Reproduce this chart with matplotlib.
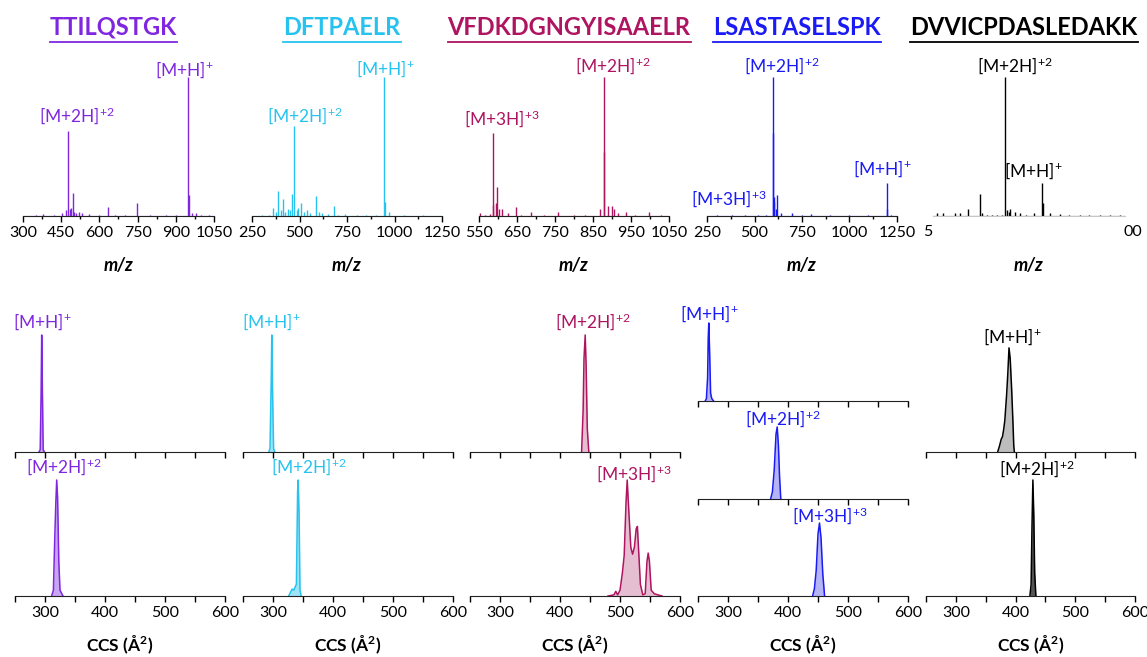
import matplotlib
matplotlib.use('Agg')
import matplotlib.pyplot as plt
from matplotlib.lines import Line2D

# ================= fonts =================
plt.rcParams['font.family'] = ['Lato', 'DejaVu Sans']
plt.rcParams['font.size'] = 11
plt.rcParams['mathtext.fontset'] = 'custom'
plt.rcParams['mathtext.rm'] = 'Lato'
plt.rcParams['mathtext.it'] = 'Lato:italic'
plt.rcParams['mathtext.bf'] = 'Lato:bold'
# =========================================

W, H = 1147, 657

peptides = ['TTILQSTGK', 'DFTPAELR', 'VFDKDGNGYISAAELR', 'LSASTASELSPK', 'DVVICPDASLEDAKK']
colors = ['#7F27E0', '#27C3EE', '#AE1460', '#1A1AF5', '#000000']
fills = ['#C9A6F2', '#9FE3F6', '#E6BED2', '#B4B4F7', ['#BDBDBD', '#555555']]

MH = r'[M+H]$^{+}$'
M2H = r'[M+2H]$^{+2}$'
M3H = r'[M+3H]$^{+3}$'

# ---- mass spectra (m/z, relative intensity) ----
mz_1 = [350, 380, 420, 455, 470, 476, 485, 490, 495, 500, 510, 520, 530, 560, 600, 634, 660, 700,
        746, 800, 860, 900, 949, 951, 965, 980, 1000, 1030]
int_1 = [0.01, 0.015, 0.01, 0.02, 0.04, 0.61, 0.05, 0.06, 0.165, 0.03, 0.025, 0.03, 0.02, 0.015, 0.01,
         0.065, 0.01, 0.008, 0.094, 0.01, 0.01, 0.01, 1.0, 0.15, 0.02, 0.02, 0.01, 0.008]

mz_2 = [300, 340, 362, 375, 385, 400, 411, 425, 441, 452, 461, 473, 485, 494, 510, 525, 541, 555, 585,
        602, 620, 650, 682, 700, 739, 800, 850, 900, 946, 950, 971, 1050, 1150]
int_2 = [0.005, 0.01, 0.055, 0.03, 0.18, 0.04, 0.12, 0.03, 0.05, 0.04, 0.16, 0.65, 0.04, 0.06, 0.095, 0.03,
         0.04, 0.02, 0.145, 0.03, 0.02, 0.015, 0.07, 0.01, 0.015, 0.008, 0.01, 0.005, 1.0, 0.1, 0.03, 0.005, 0.005]

mz_3 = [553, 565, 580, 586, 588, 594, 598, 603, 610, 625, 647, 660, 688, 720, 759, 800, 830, 868, 879,
        880, 890, 899, 905, 915, 938, 960, 997, 1030]
int_3 = [0.02, 0.01, 0.015, 0.6, 0.08, 0.09, 0.21, 0.05, 0.05, 0.02, 0.065, 0.01, 0.03, 0.01, 0.03, 0.01,
         0.01, 0.05, 1.0, 0.46, 0.07, 0.07, 0.05, 0.02, 0.03, 0.01, 0.03, 0.01]

mz_4 = [300, 380, 450, 520, 560, 595, 597, 601, 605, 612, 617, 640, 700, 750, 800, 900, 1000, 1100,
        1195, 1199, 1220]
int_4 = [0.005, 0.01, 0.008, 0.01, 0.01, 1.0, 0.6, 0.1, 0.14, 0.05, 0.15, 0.02, 0.02, 0.01, 0.012, 0.005,
         0.005, 0.005, 0.24, 0.05, 0.005]

mz_5 = [531, 578, 672, 711, 773, 867, 880, 920, 960, 1000, 1040, 1063, 1078, 1090, 1102, 1141, 1180, 1230,
        1290, 1352, 1359, 1414, 1492, 1560, 1648, 1720, 1805, 1880, 1961]
int_5 = [0.02, 0.02, 0.02, 0.02, 0.05, 0.16, 0.02, 0.01, 0.01, 0.01, 0.01, 1.0, 0.045, 0.03, 0.05, 0.03,
         0.02, 0.01, 0.02, 0.24, 0.09, 0.02, 0.015, 0.01, 0.01, 0.01, 0.01, 0.01, 0.01]

spectra = [(mz_1, int_1), (mz_2, int_2), (mz_3, int_3), (mz_4, int_4), (mz_5, int_5)]
mz_ranges = [(300, 1050, 150), (250, 1250, 250), (550, 1050, 100), (250, 1250, 250), (500, 2000, 250)]

# labels: (text, m/z of peak, intensity of peak, dx px, dy px)
ms_labels = [
    [(M2H, 476, 0.61, 9, 9), (MH, 949, 1.0, -4, 1)],
    [(M2H, 473, 0.65, 11, 4), (MH, 946, 1.0, 1, 2)],
    [(M3H, 586, 0.6, 9, 8), (M2H, 879, 1.0, 9, 5)],
    [(M2H, 595, 1.0, 9, 5), (M3H, 605, 0.14, -46, -8), (MH, 1195, 0.24, -4, 8)],
    [(M2H, 1063, 1.0, 10, 5), (MH, 1352, 0.24, -9, 6)],
]

# ---- CCS profiles (Å², relative intensity) ----
ccs_ttil_1 = [290, 292, 293.5, 294.5, 296, 297, 299]
prof_ttil_1 = [0, 0.02, 0.5, 1.0, 0.4, 0.02, 0]
ccs_ttil_2 = [311, 314, 316, 318, 319.5, 321, 323, 325, 328, 330]
prof_ttil_2 = [0, 0.05, 0.45, 0.8, 1.0, 0.85, 0.3, 0.05, 0.02, 0]

ccs_dftp_1 = [293, 295, 297, 298, 299.5, 301, 303]
prof_dftp_1 = [0, 0.03, 0.6, 1.0, 0.45, 0.03, 0]
ccs_dftp_2 = [326, 329, 332, 335, 337, 339, 340, 341, 342, 343.5, 345, 347]
prof_dftp_2 = [0, 0.03, 0.06, 0.05, 0.08, 0.1, 0.5, 0.9, 1.0, 0.7, 0.05, 0]

ccs_vfdk_2 = [436, 438.5, 440, 442, 443.5, 445.5, 448]
prof_vfdk_2 = [0, 0.35, 0.8, 1.0, 0.75, 0.2, 0]
ccs_vfdk_3 = [480, 490, 493, 496, 500, 504, 507, 510, 512, 514, 518, 521, 524, 527, 529, 531, 534, 538,
              542, 545, 547, 549, 552, 557, 563, 570]
prof_vfdk_3 = [0, 0.01, 0.04, 0.01, 0.05, 0.2, 0.35, 0.8, 1.0, 0.8, 0.42, 0.36, 0.42, 0.58, 0.6, 0.4,
               0.1, 0.01, 0.02, 0.3, 0.37, 0.3, 0.05, 0.02, 0.01, 0]

ccs_lsas_1 = [262, 264, 266, 267, 268, 269.5, 271, 273, 276]
prof_lsas_1 = [0, 0.03, 0.3, 0.8, 1.0, 0.6, 0.1, 0.03, 0]
ccs_lsas_2 = [371, 374, 377, 380, 382, 384, 386, 388]
prof_lsas_2 = [0, 0.1, 0.4, 0.9, 1.0, 0.75, 0.3, 0]
ccs_lsas_3 = [441, 444, 447, 450, 452.5, 455, 458, 461]
prof_lsas_3 = [0, 0.1, 0.35, 0.85, 1.0, 0.8, 0.3, 0]

ccs_dvvi_1 = [370, 373, 376, 378, 380, 382, 385, 387, 389, 391, 393.5, 395.5, 397, 398]
prof_dvvi_1 = [0, 0.05, 0.11, 0.13, 0.19, 0.27, 0.49, 0.67, 0.89, 0.8, 0.53, 0.27, 0.05, 0]
ccs_dvvi_2 = [424, 426, 427.5, 429, 430.5, 432, 434]
prof_dvvi_2 = [0, 0.1, 0.6, 1.0, 0.7, 0.2, 0]

ccs_traces = [
    [(ccs_ttil_1, prof_ttil_1), (ccs_ttil_2, prof_ttil_2)],
    [(ccs_dftp_1, prof_dftp_1), (ccs_dftp_2, prof_dftp_2)],
    [(ccs_vfdk_2, prof_vfdk_2), (ccs_vfdk_3, prof_vfdk_3)],
    [(ccs_lsas_1, prof_lsas_1), (ccs_lsas_2, prof_lsas_2), (ccs_lsas_3, prof_lsas_3)],
    [(ccs_dvvi_1, prof_dvvi_1), (ccs_dvvi_2, prof_dvvi_2)],
]
# labels: (text, dx px, dy px) anchored on the trace maximum
ccs_labels = [
    [(MH, 1, 7), (M2H, 7, 7)],
    [(MH, 0, 7), (M2H, 11, 7)],
    [(M2H, 8, 7), (M3H, 7, 0)],
    [(MH, 1, 3), (M2H, 6, 2), (M3H, 10, 1)],
    [(MH, 3, 5), (M2H, 4, 5)],
]

# ---- layout in image pixels ----
top_x = [(23, 214), (252, 442), (479, 669), (707, 897), (933, 1125)]
top_y = (77, 216)
bot_x = [(15, 225), (243, 453), (470, 680), (698, 908), (926, 1135)]
bot_y2 = [(335, 452), (480, 596)]
bot_y3 = [(323, 401), (427, 499), (523, 596)]


def rect(l, t, r, b):
    return [l / W, 1 - b / H, (r - l) / W, (b - t) / H]


fig = plt.figure(figsize=(W / 100, H / 100), dpi=100)

titles = []
for i in range(5):
    c = colors[i]
    l, r = top_x[i]
    ax = fig.add_axes(rect(l, top_y[0], r, top_y[1]))
    mz, inten = spectra[i]
    lo, hi, step = mz_ranges[i]
    ax.vlines(mz, 0, inten, color=c, lw=1.0, clip_on=False)
    ax.axhline(0, color=c, lw=0.8)
    ax.set_xlim(lo, hi)
    ax.set_ylim(0, 1)
    for s in ['top', 'right', 'left']:
        ax.spines[s].set_visible(False)
    ax.set_yticks([])
    if i < 4:
        ax.set_xticks(list(range(lo, hi + 1, step)))
        ax.set_xticks([v + step / 2 for v in range(lo, hi, step)], minor=True)
        ax.tick_params(axis='x', which='major', length=4, width=1, pad=3.5, labelsize=11.5)
        ax.tick_params(axis='x', which='minor', length=2.5, width=1)
        ax.spines['bottom'].set_color('#222222')
    else:
        ax.set_xticks([])
        ax.spines['bottom'].set_color('#C8C8C8')
        ax.spines['bottom'].set_linestyle((0, (1, 1)))
        ax.text(-0.005, -0.115, '5', transform=ax.transAxes, ha='right', va='center', fontsize=11.5)
        ax.text(0.99, -0.115, '00', transform=ax.transAxes, ha='left', va='center', fontsize=11.5)
    ax.set_xlabel('m/z', fontsize=13, fontweight='bold', fontstyle='italic', va='center')
    ax.xaxis.set_label_coords(0.5, (top_y[1] - 265) / (top_y[1] - top_y[0]))
    for txt, x, y, dx, dy in ms_labels[i]:
        ax.annotate(txt, xy=(x, y), xytext=(dx, dy), textcoords='offset pixels',
                    ha='center', va='baseline', color=c, fontsize=12.5, annotation_clip=False)
    t = fig.text(((l + r) / 2 - 5) / W, 1 - 35 / H, peptides[i], color=c, fontsize=17,
                 fontweight='bold', ha='center', va='baseline')
    titles.append(t)

    # CCS distributions
    bl, br = bot_x[i]
    geo = bot_y3 if len(ccs_traces[i]) == 3 else bot_y2
    for j, (ccs, prof) in enumerate(ccs_traces[i]):
        bt, bb = geo[j]
        bx = fig.add_axes(rect(bl, bt, br, bb))
        fc = fills[i][j] if isinstance(fills[i], list) else fills[i]
        bx.fill_between(ccs, prof, 0, color=fc, lw=0)
        bx.plot(ccs, prof, color=c, lw=1.1, clip_on=False)
        bx.set_xlim(250, 600)
        bx.set_ylim(0, 1)
        for s in ['top', 'right', 'left']:
            bx.spines[s].set_visible(False)
        bx.spines['bottom'].set_color('#222222')
        bx.set_yticks([])
        bx.set_xticks([300, 400, 500, 600])
        bx.set_xticks([250, 350, 450, 550], minor=True)
        bx.tick_params(axis='x', which='both', length=4, width=1, pad=3.5, labelsize=11.5)
        if j < len(geo) - 1:
            bx.set_xticklabels([])
        else:
            bx.set_xlabel(r'CCS (Å$^{\mathbf{2}}$)', fontsize=12.5, fontweight='bold', va='center')
            bx.xaxis.set_label_coords(0.5, (bb - 645) / (bb - bt))
        k = prof.index(max(prof))
        txt, dx, dy = ccs_labels[i][j]
        bx.annotate(txt, xy=(ccs[k], prof[k]), xytext=(dx, dy), textcoords='offset pixels',
                    ha='center', va='baseline', color=c, fontsize=12.5, annotation_clip=False)

# underline the peptide names
fig.canvas.draw()
rend = fig.canvas.get_renderer()
for t in titles:
    bb = t.get_window_extent(renderer=rend)
    y = bb.y0 - 2.5
    fig.add_artist(Line2D([bb.x0 / W, bb.x1 / W], [y / H, y / H], transform=fig.transFigure,
                          color=t.get_color(), lw=1.3))

plt.savefig('out.png', dpi=100)
